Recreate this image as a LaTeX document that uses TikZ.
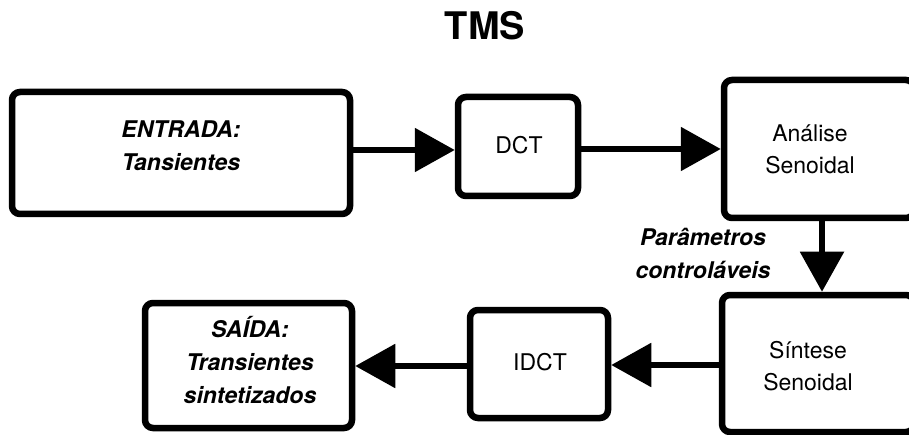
\documentclass[tikz,border=0pt]{standalone}
\usepackage{fontspec}
\setmainfont{TeX Gyre Heros}
\usetikzlibrary{arrows.meta}
\tikzset{
  box/.style={draw, line width=6.5pt, rounded corners=8pt, fill=white, inner sep=0pt},
  txt/.style={align=center, font=\fontsize{23}{32}\selectfont},
  btxt/.style={align=center, font=\fontsize{23}{33}\selectfont\bfseries\itshape},
  arr/.style={line width=5.5pt, -{Triangle[length=40pt,width=43pt]}}
}
\begin{document}
\begin{tikzpicture}[x=1pt,y=-1pt]
\useasboundingbox (0,0) rectangle (909,435);
\clip (0,0) rectangle (909,435);

% title
\node[font=\fontsize{38}{40}\selectfont\bfseries] (title) at (485,26) {TMS};

% blocks
\node[box, minimum width=338, minimum height=122] (ent) at (181,153) {};
\node[btxt] (entt) at (181,146) {ENTRADA:\\Tansientes};

\node[box, minimum width=120, minimum height=99] (dct) at (518,146.5) {};
\node[txt] (dctt) at (519,145) {DCT};

\node[box, minimum width=190, minimum height=138] (ana) at (819,149) {};
\node[txt] (anat) at (810,149) {Análise\\Senoidal};

\node[box, minimum width=192, minimum height=137] (sin) at (818,363.5) {};
\node[txt] (sint) at (808,366) {Síntese\\Senoidal};

\node[box, minimum width=138, minimum height=108] (idct) at (539,364) {};
\node[txt] (idctt) at (540,362) {IDCT};

\node[box, minimum width=207, minimum height=125] (sai) at (248.5,365.5) {};
\node[btxt] (sait) at (250,360) {SAÍDA:\\Transientes\\sintetizados};

% label of the vertical link
\node[btxt] (par) at (703,253) {Parâmetros\\controláveis};

% connectors
\draw[arr] (ent.east |- 0,150) -- (dct.west |- 0,150);
\draw[arr] (dct.east |- 0,149) -- (ana.west |- 0,149);
\draw[arr] (ana.south -| 822,0) -- (sin.north -| 822,0);
\draw[arr] (sin.west |- 0,365) -- (idct.east |- 0,365);
\draw[arr] (idct.west |- 0,366) -- (sai.east |- 0,366);
\end{tikzpicture}
\end{document}
